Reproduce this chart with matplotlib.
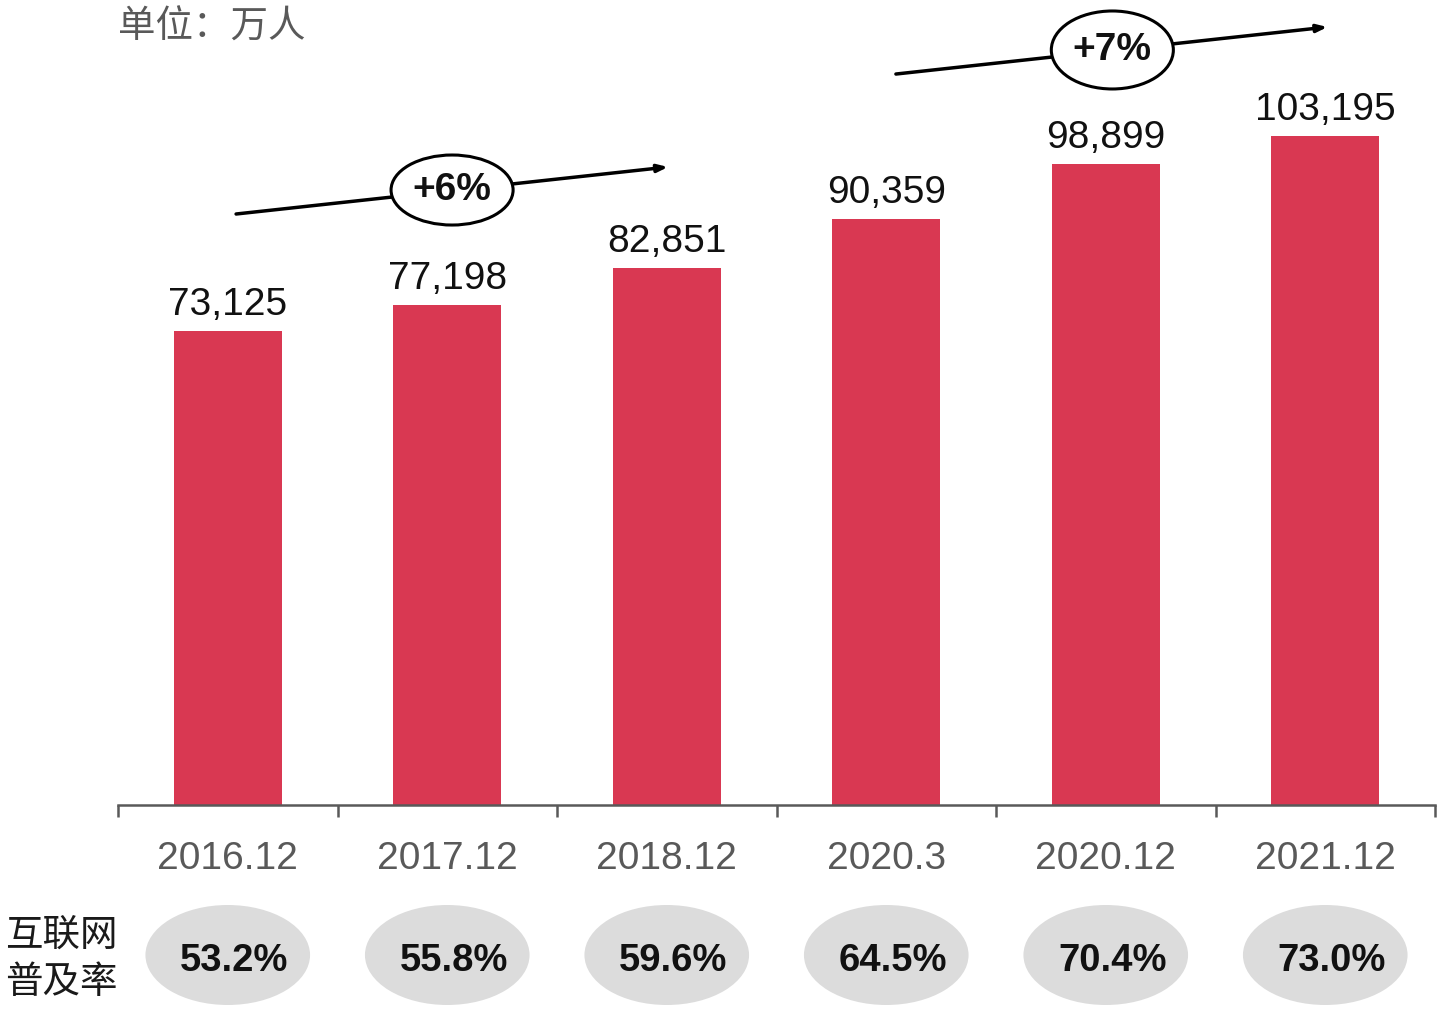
import matplotlib
matplotlib.use("Agg")
import matplotlib.pyplot as plt
from matplotlib.patches import Ellipse
import matplotlib.transforms as mtransforms

plt.rcParams['font.family'] = ['Liberation Sans', 'Noto Sans CJK SC', 'DejaVu Sans']

categories = ["2016.12", "2017.12", "2018.12", "2020.3", "2020.12", "2021.12"]
users = [73125, 77198, 82851, 90359, 98899, 103195]
penetration = ["53.2%", "55.8%", "59.6%", "64.5%", "70.4%", "73.0%"]
growth_labels = ["+6%", "+7%"]
unit_label = "单位：万人"
row_label = ["互联网", "普及率"]

BAR_COLOR = "#D93852"
AXIS_GRAY = "#595959"
ELLIPSE_GRAY = "#DCDCDC"

W, H = 1440, 1010
fig = plt.figure(figsize=(W / 100, H / 100), dpi=100)
ax = fig.add_axes([118 / W, (H - 805) / H, 1317 / W, 805 / H])

x = list(range(len(categories)))
bars = ax.bar(x, users, width=0.49, color=BAR_COLOR, zorder=2)
ax.set_xlim(-0.5, len(categories) - 0.5)
ax.set_ylim(0, 124170)

for s in ["top", "right", "left"]:
    ax.spines[s].set_visible(False)
ax.spines["bottom"].set_color(AXIS_GRAY)
ax.spines["bottom"].set_linewidth(1.8)
ax.set_yticks([])
ax.set_xticks(x)
ax.set_xticklabels([])
ax.tick_params(axis="x", which="major", length=0)
ax.set_xticks([i - 0.5 for i in range(len(categories) + 1)], minor=True)
ax.tick_params(axis="x", which="minor", length=8.6, width=1.8, color=AXIS_GRAY, direction="out")

# value labels
for xi, v in zip(x, users):
    ax.annotate(f"{v:,}", xy=(xi, v), xytext=(0, 11.5), textcoords="offset points",
                ha="center", va="baseline", fontsize=28, color="#111111")

blend = mtransforms.blended_transform_factory(ax.transData, fig.transFigure)

# category labels
for xi, c in zip(x, categories):
    ax.text(xi, (H - 869) / H, c, transform=blend, ha="center", va="baseline",
            fontsize=28, color=AXIS_GRAY, clip_on=False)

# penetration ellipses
for xi, p in zip(x, penetration):
    e = Ellipse((xi, (H - 955) / H), width=0.75, height=100 / H, transform=blend,
                facecolor=ELLIPSE_GRAY, edgecolor="none", clip_on=False)
    ax.add_artist(e)
    ax.text(xi + 0.03, (H - 971) / H, p, transform=blend, ha="center", va="baseline",
            fontsize=27.5, fontweight="bold", color="#111111", clip_on=False)

fig.text(5 / W, (H - 946) / H, row_label[0], ha="left", va="baseline", fontsize=27, color="#1a1a1a")
fig.text(5 / W, (H - 993) / H, row_label[1], ha="left", va="baseline", fontsize=27, color="#1a1a1a")

fig.text(118 / W, (H - 38) / H, unit_label, ha="left", va="baseline", fontsize=27, color=AXIS_GRAY)

# growth arrows
arrows = [((0.038, 91160), (2.006, 98410), (1.022, 94860), 0.556, 10800),
          ((3.044, 112750), (5.01, 120000), (4.03, 116460), 0.556, 12030)]
for (start, end, center, ew, eh), lab in zip(arrows, growth_labels):
    ax.annotate("", xy=end, xytext=start,
                arrowprops=dict(arrowstyle="-|>,head_length=0.6,head_width=0.22",
                                color="black", lw=2.5, shrinkA=0, shrinkB=0),
                annotation_clip=False, zorder=3)
    e = Ellipse(center, width=ew, height=eh, facecolor="white", edgecolor="black",
                lw=2.2, zorder=4, clip_on=False)
    ax.add_patch(e)
    ax.text(center[0], center[1], lab, ha="center", va="center", fontsize=28,
            fontweight="bold", color="#111111", zorder=5, clip_on=False)

fig.savefig("out.png", dpi=100)
